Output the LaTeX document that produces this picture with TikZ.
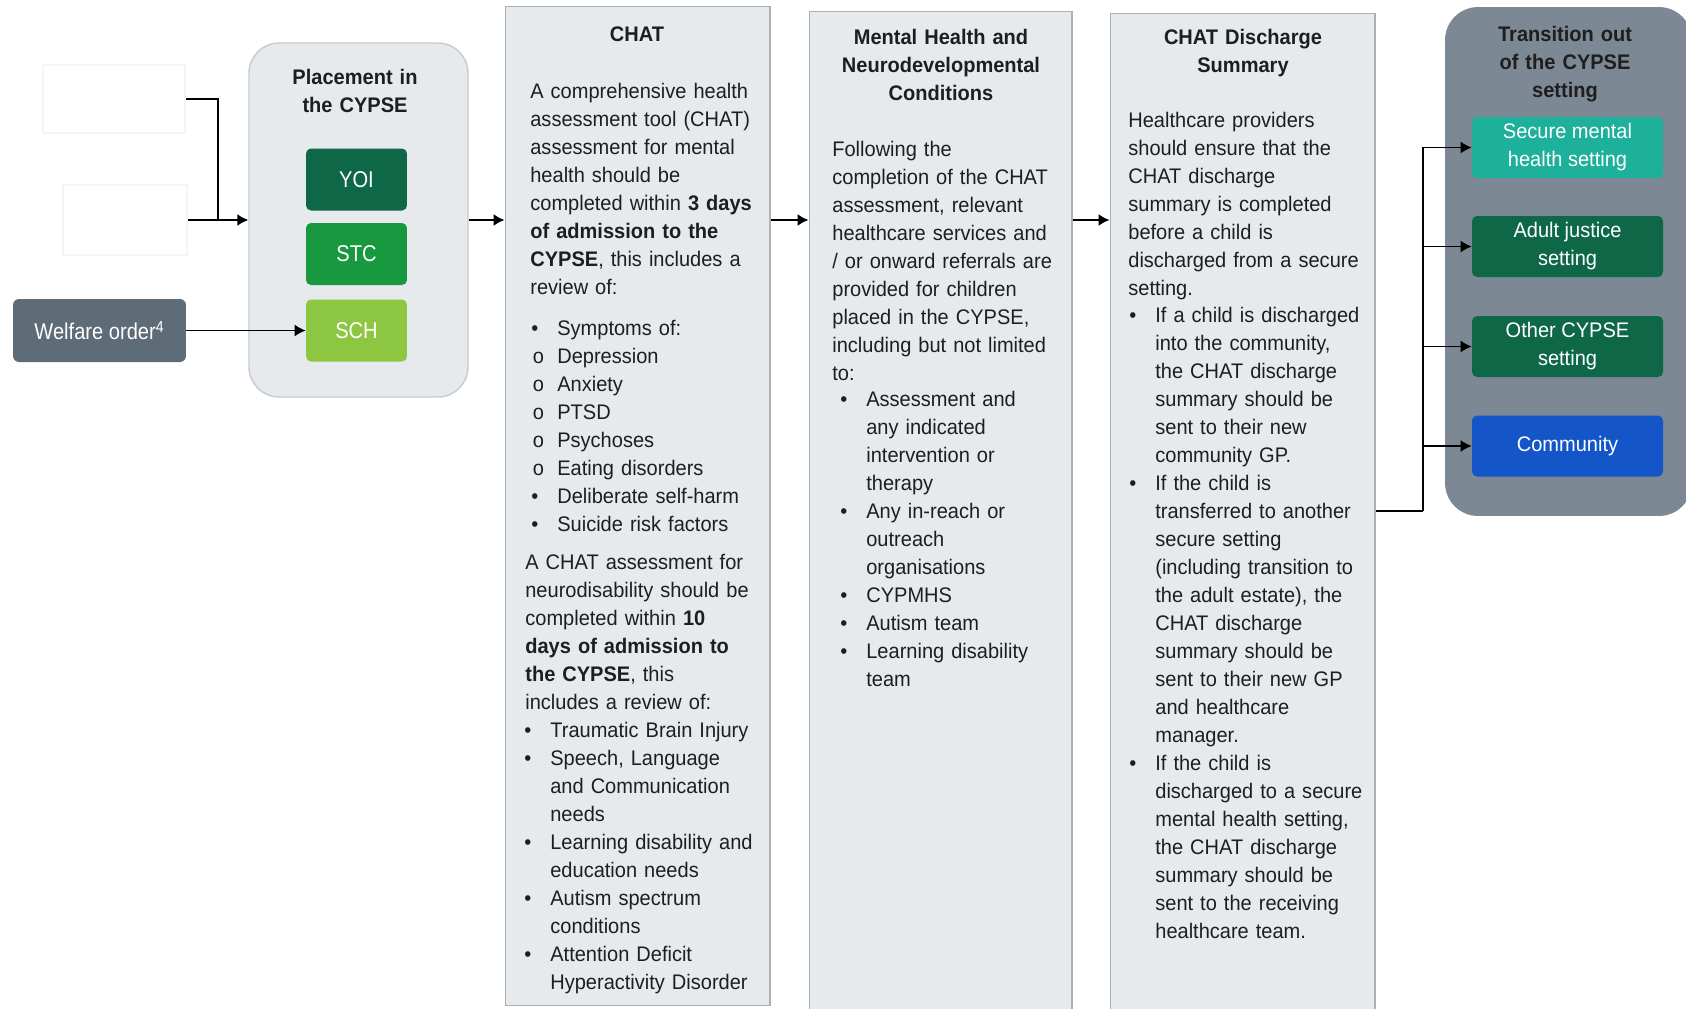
\documentclass[tikz,border=0pt]{standalone}
\usepackage{fontspec}
\setmainfont{Liberation Sans}[FakeStretch=0.95]
\newfontfamily\boxfont{Liberation Sans}[FakeStretch=0.88]
\usetikzlibrary{positioning,arrows.meta,calc}

\definecolor{panelfill}{HTML}{E6EAED}
\definecolor{boxline}{HTML}{A9B1B7}
\definecolor{groupline}{HTML}{C6CCD1}
\definecolor{faintline}{HTML}{F3F7F4}
\definecolor{inktext}{HTML}{1E1E1E}
\definecolor{yoigreen}{HTML}{0E6848}
\definecolor{stcgreen}{HTML}{18983F}
\definecolor{schgreen}{HTML}{8DC641}
\definecolor{welfaregrey}{HTML}{5E6C78}
\definecolor{exitgrey}{HTML}{7C8894}
\definecolor{secureteal}{HTML}{1DB09A}
\definecolor{darkgreen}{HTML}{0E6848}
\definecolor{commblue}{HTML}{1456C8}

\tikzset{
  flowarrow/.style={-{Latex[length=2.2mm,width=2.4mm]}, line width=0.9pt},
  flowline/.style={line width=0.9pt},
  blankbox/.style={draw=faintline, fill=white, line width=1pt},
  stagebox/.style={draw=boxline, line width=0.6pt, fill=panelfill, minimum width=5.3cm, minimum height=20cm},
  groupbox/.style={draw=groupline, line width=0.8pt, fill=panelfill, rounded corners=0.6cm},
  exitpanel/.style={fill=exitgrey, rounded corners=0.66cm, minimum width=4.94cm, minimum height=10.18cm},
  setbox/.style={rounded corners=0.1cm, text=white, minimum width=2.02cm, minimum height=1.24cm, font=\boxfont\fontsize{13}{15}\selectfont},
  greybox/.style={setbox, fill=welfaregrey, minimum width=3.46cm, minimum height=1.26cm, rounded corners=0.12cm},
  exitbox/.style={rounded corners=0.1cm, text=white, minimum width=3.82cm, minimum height=1.22cm, align=center, inner sep=1pt},
  headtext/.style={font=\fontsize{12}{15.94}\selectfont\bfseries, text width=5cm, align=center, anchor=base, inner sep=0pt},
  bodytext/.style={text width=5cm, align=left, anchor=base west, inner sep=0pt}
}
% list markers with a hanging indent
\newcommand{\bul}{\makebox[0.52cm][l]{\textbullet}}
\newcommand{\subbul}{\makebox[0.52cm][l]{\hspace*{0.03cm}o}}
\newcommand{\cont}{\hspace*{0.52cm}}

\begin{document}
\begin{tikzpicture}[x=0.02cm, y=-0.02cm, every node/.style={font=\fontsize{12}{15.94}\selectfont, text=inktext}]
  \fill[white] (0,0) rectangle (1686,1008);
  \useasboundingbox (0,0) rectangle (1686,1008);

  % routes into the secure estate
  \node[blankbox, minimum width=2.84cm, minimum height=1.36cm] (intakeA) at (114,99) {};
  \node[blankbox, minimum width=2.48cm, minimum height=1.40cm] (intakeB) at (125,220) {};
  \node[greybox] (welfare) at (99.5,330.5) {Welfare order\textsuperscript{4}};

  % placement
  \node[groupbox, minimum width=4.38cm, minimum height=7.08cm] (place) at (358.5,220) {};
  \node[headtext] (placehead) at (355,84) {Placement in\\the CYPSE};
  \node[setbox, fill=yoigreen] (yoi) at (356.5,179.5) {YOI};
  \node[setbox, fill=stcgreen] (stc) at (356.5,254) {STC};
  \node[setbox, fill=schgreen] (sch) at (356.5,330.5) {SCH};

  % CHAT
  \node[stagebox] (chat) at (637.5,506) {};
  \node[headtext] (chathead) at (637,41) {CHAT};
  \node[bodytext] (chatintro) at (530,98) {A comprehensive health\\assessment tool (CHAT)\\assessment for mental\\health should be\\completed within \textbf{3 days}\\\textbf{of admission to the}\\\textbf{CYPSE}, this includes a\\review of:};
  \node[bodytext] (chatmh) at (531,335) {\bul Symptoms of:\\\subbul Depression\\\subbul Anxiety\\\subbul PTSD\\\subbul Psychoses\\\subbul Eating disorders\\\bul Deliberate self-harm\\\bul Suicide risk factors};
  \node[bodytext] (chatnd) at (525,569) {A CHAT assessment for\\neurodisability should be\\completed within \textbf{10}\\\textbf{days of admission to}\\\textbf{the CYPSE}, this\\includes a review of:};
  \node[bodytext] (chatndlist) at (524,737) {\bul Traumatic Brain Injury\\\bul Speech, Language\\\cont and Communication\\\cont needs\\\bul Learning disability and\\\cont education needs\\\bul Autism spectrum\\\cont conditions\\\bul Attention Deficit\\\cont Hyperactivity Disorder};

  % mental health and neurodevelopmental conditions
  \node[stagebox, minimum width=5.26cm] (mh) at (940.5,511) {};
  \node[headtext] (mhhead) at (941,44) {Mental Health and\\Neurodevelopmental\\Conditions};
  \node[bodytext] (mhintro) at (832,156) {Following the\\completion of the CHAT\\assessment, relevant\\healthcare services and\\/ or onward referrals are\\provided for children\\placed in the CYPSE,\\including but not limited\\to:};
  \node[bodytext] (mhlist) at (840,406) {\bul Assessment and\\\cont any indicated\\\cont intervention or\\\cont therapy\\\bul Any in-reach or\\\cont outreach\\\cont organisations\\\bul CYPMHS\\\bul Autism team\\\bul Learning disability\\\cont team};

  % discharge summary
  \node[stagebox, minimum height=19.96cm] (disc) at (1242.5,512) {};
  \node[headtext] (dischead) at (1243,44) {CHAT Discharge\\Summary};
  \node[bodytext] (discintro) at (1128,127) {Healthcare providers\\should ensure that the\\CHAT discharge\\summary is completed\\before a child is\\discharged from a secure\\setting.};
  \node[bodytext] (disclist) at (1129,322) {\bul If a child is discharged\\\cont into the community,\\\cont the CHAT discharge\\\cont summary should be\\\cont sent to their new\\\cont community GP.\\\bul If the child is\\\cont transferred to another\\\cont secure setting\\\cont (including transition to\\\cont the adult estate), the\\\cont CHAT discharge\\\cont summary should be\\\cont sent to their new GP\\\cont and healthcare\\\cont manager.\\\bul If the child is\\\cont discharged to a secure\\\cont mental health setting,\\\cont the CHAT discharge\\\cont summary should be\\\cont sent to the receiving\\\cont healthcare team.};

  % transition out
  \node[exitpanel] (exit) at (1568.5,261.5) {};
  \node[headtext] (exithead) at (1565,41) {Transition out\\of the CYPSE\\setting};
  \node[exitbox, fill=secureteal] (secure) at (1567.5,147.5) {Secure mental\\health setting};
  \node[exitbox, fill=darkgreen] (adult) at (1567.5,246.5) {Adult justice\\setting};
  \node[exitbox, fill=darkgreen] (othersec) at (1567.5,346.5) {Other CYPSE\\setting};
  \node[exitbox, fill=commblue] (comm) at (1567.5,446) {Community};

  % connectors
  \coordinate (merge) at (218,220);
  \draw[flowline] (intakeA.east) -| (merge);
  \draw[flowarrow] (intakeB.east) -- (place.west);
  \draw[flowarrow] (welfare.east) -- (sch.west);
  \draw[flowarrow] (place.east) -- (place.east -| chat.west);
  \draw[flowarrow] (place.east -| chat.east) -- (place.east -| mh.west);
  \draw[flowarrow] (place.east -| mh.east) -- (place.east -| disc.west);
  \coordinate (fork) at (1423,511);
  \draw[flowline] (fork -| disc.east) -- (fork);
  \foreach \dest in {secure,adult,othersec,comm}
    \draw[flowarrow] (fork) |- (\dest.west);
\end{tikzpicture}
\end{document}
